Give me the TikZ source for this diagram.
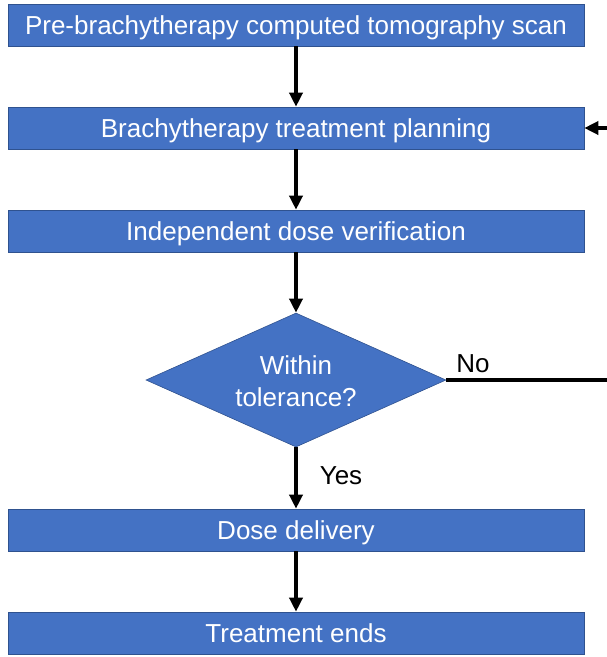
\documentclass[tikz,border=0pt]{standalone}
\usepackage{fontspec}
\setmainfont{Liberation Sans}
\usetikzlibrary{shapes.geometric,arrows.meta}
\definecolor{boxblue}{HTML}{4472C4}
\definecolor{boxedge}{HTML}{2F528F}
\tikzset{
  stepbox/.style={rectangle, fill=boxblue, draw=boxedge, line width=0.6pt, minimum width=576pt, minimum height=42pt, inner sep=0pt, text=white, text height=18pt, text depth=0pt, font=\fontsize{26}{30}\selectfont},
  decision/.style={diamond, fill=boxblue, draw=boxedge, line width=0.6pt, minimum width=300pt, minimum height=134pt, inner sep=0pt, aspect=2.24},
  flow/.style={line width=3.4pt, -{Triangle[length=14pt,width=13pt]}},
  lbl/.style={font=\fontsize{26}{30}\selectfont, text=black}
}
\begin{document}
\begin{tikzpicture}[x=1pt,y=-1pt]
\useasboundingbox (0,0) rectangle (607,657);
\clip (0,0) rectangle (607,657);
\node[stepbox] (b1) at (296,25) {Pre-brachytherapy computed tomography scan};
\node[stepbox] (b2) at (296,128) {Brachytherapy treatment planning};
\node[stepbox] (b3) at (296,231) {Independent dose verification};
\node[decision] (d) at (296,380) {};
\node[text=white, align=center, font=\fontsize{26}{32}\selectfont] (dt) at (296,381) {Within\\tolerance?};
\node[stepbox] (b4) at (296,530) {Dose delivery};
\node[stepbox] (b5) at (296,633) {Treatment ends};
\coordinate (loop) at (612,380);
\draw[flow] (b1) -- (b2);
\draw[flow] (b2) -- (b3);
\draw[flow] (b3) -- (d);
\draw[flow] (d) -- (b4);
\draw[flow] (b4) -- (b5);
\draw[flow] (d.east) -- (loop) |- (b2.east);
\node[lbl] (no) at (473,364) {No};
\node[lbl] (yes) at (341,476) {Yes};
\end{tikzpicture}
\end{document}
